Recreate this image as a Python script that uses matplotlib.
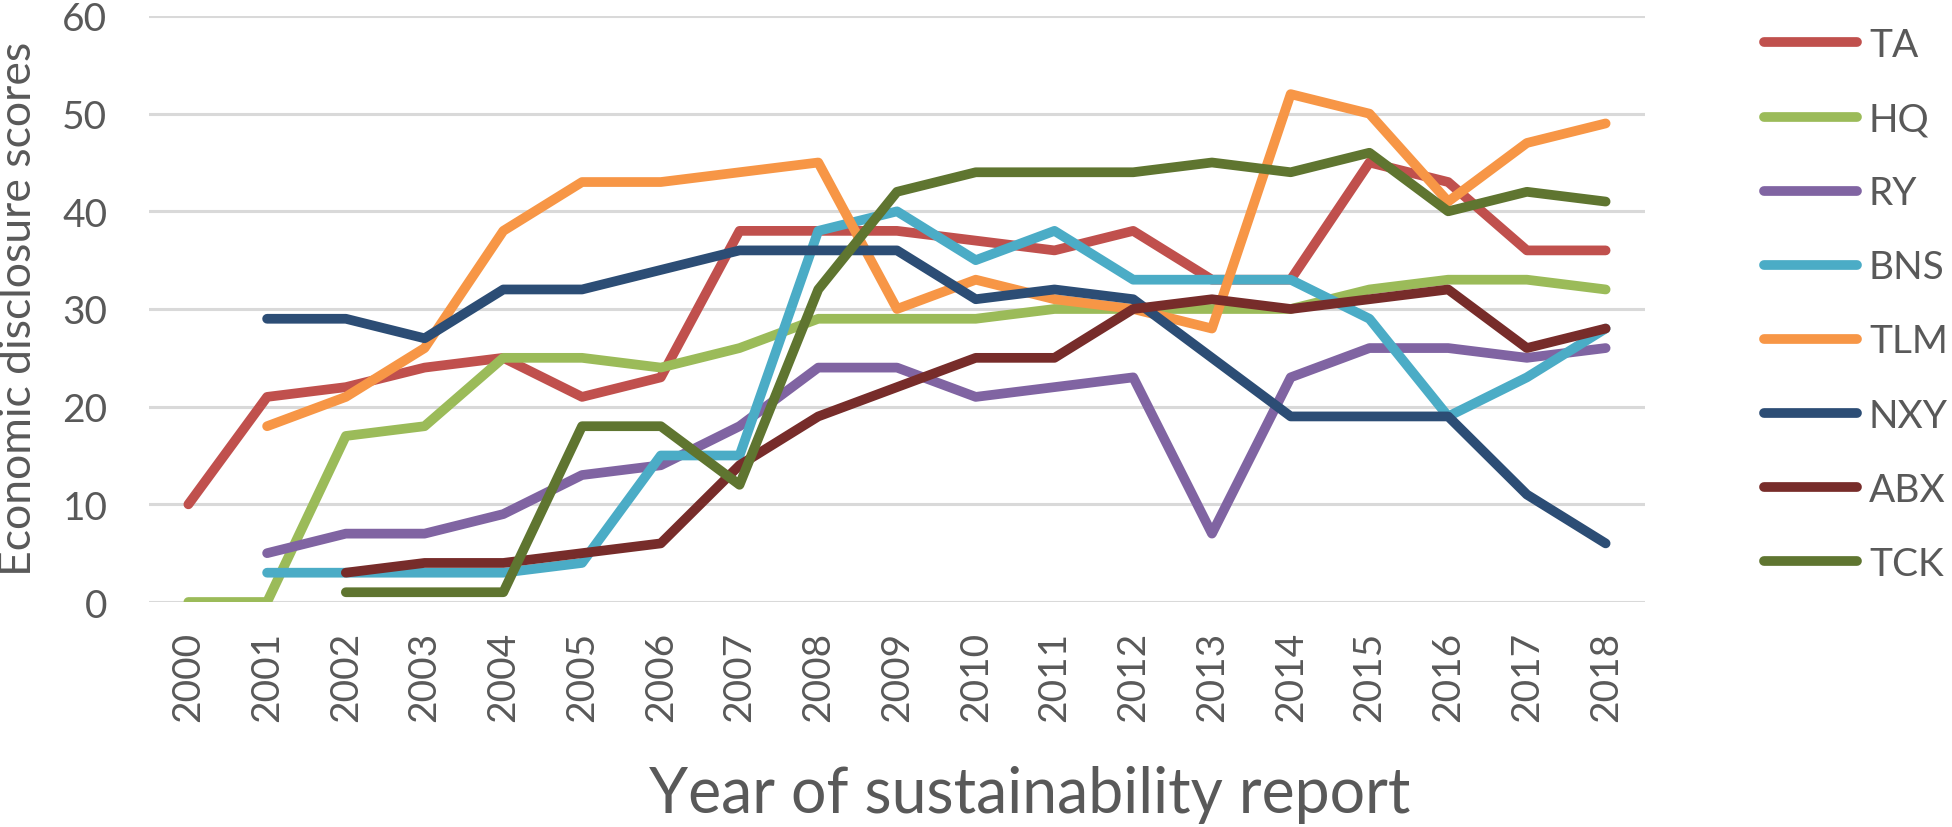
import numpy as np
import matplotlib
matplotlib.use("Agg")
import matplotlib.pyplot as plt

nan = np.nan

years = [str(y) for y in range(2000, 2019)]

TA = [10, 21, 22, 24, 25, 21, 23, 38, 38, 38, 37, 36, 38, 33, 33, 45, 43, 36, 36]
HQ = [0, 0, 17, 18, 25, 25, 24, 26, 29, 29, 29, 30, 30, 30, 30, 32, 33, 33, 32]
RY = [nan, 5, 7, 7, 9, 13, 14, 18, 24, 24, 21, 22, 23, 7, 23, 26, 26, 25, 26]
BNS = [nan, 3, 3, 3, 3, 4, 15, 15, 38, 40, 35, 38, 33, 33, 33, 29, 19, 23, 28]
TLM = [nan, 18, 21, 26, 38, 43, 43, 44, 45, 30, 33, 31, 30, 28, 52, 50, 41, 47, 49]
NXY = [nan, 29, 29, 27, 32, 32, 34, 36, 36, 36, 31, 32, 31, 25, 19, 19, 19, 11, 6]
ABX = [nan, nan, 3, 4, 4, 5, 6, 14, 19, 22, 25, 25, 30, 31, 30, 31, 32, 26, 28]
TCK = [nan, nan, 1, 1, 1, 18, 18, 12, 32, 42, 44, 44, 44, 45, 44, 46, 40, 42, 41]

series = [
    ("TA", TA, "#C0504D"),
    ("HQ", HQ, "#9BBB59"),
    ("RY", RY, "#8064A2"),
    ("BNS", BNS, "#4BACC6"),
    ("TLM", TLM, "#F79646"),
    ("NXY", NXY, "#2C4D75"),
    ("ABX", ABX, "#772C2A"),
    ("TCK", TCK, "#5F7530"),
]

TEXT = "#595959"
plt.rcParams["font.family"] = ["Lato", "DejaVu Sans"]

W, H = 1952, 828
fig = plt.figure(figsize=(W / 100, H / 100), dpi=100)
ax = fig.add_axes([149 / W, 1 - 603 / H, 1496 / W, 586 / H])

x = np.arange(len(years))
for name, vals, col in series:
    ax.plot(x, vals, color=col, lw=7, label=name,
            solid_capstyle="round", solid_joinstyle="round")

ax.set_xlim(-0.5, len(years) - 0.5)
ax.set_ylim(0, 60)
ax.set_yticks(range(0, 61, 10))
ax.set_xticks(x)
ax.set_xticklabels(years, rotation=90)
ax.yaxis.grid(True, color="#D9D9D9", lw=2.2)
ax.set_axisbelow(True)
for s in ax.spines.values():
    s.set_visible(False)
ax.tick_params(axis="y", length=0, pad=30, labelsize=28, labelcolor=TEXT)
ax.tick_params(axis="x", length=0, pad=21, labelsize=28, labelcolor=TEXT)

fig.text(1030 / W, 1 - 813 / H, "Year of sustainability report",
         ha="center", va="baseline", fontsize=45, color=TEXT)
fig.text(19 / W, 1 - 309 / H, "Economic disclosure scores",
         ha="center", va="center", rotation=90, fontsize=32, color=TEXT)

fig.legend(loc="upper left", bbox_to_anchor=(1764 / W, 1 - 28 / H),
           frameon=False, fontsize=28, labelcolor=TEXT,
           handlelength=2.4, handletextpad=0.3, labelspacing=0.98,
           borderpad=0, borderaxespad=0)

fig.savefig("out.png", dpi=100)
